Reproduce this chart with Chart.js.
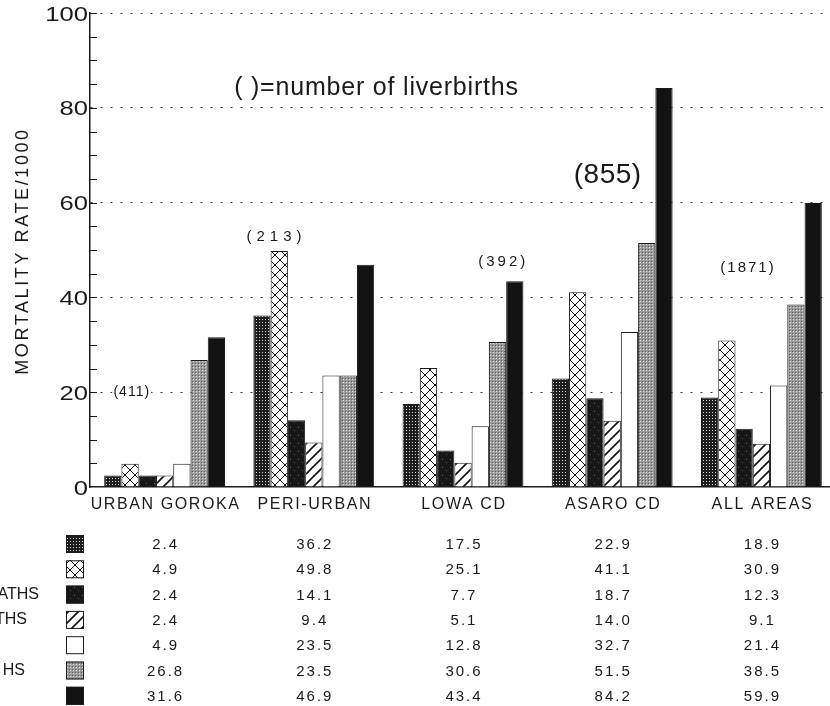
<!DOCTYPE html>
<html>
<head>
<meta charset="utf-8">
<script src="https://cdn.jsdelivr.net/npm/chart.js@4.4.1/dist/chart.umd.min.js"></script>
<style>
  html, body { margin: 0; padding: 0; background: #fff; overflow: hidden; }
  #wrap { width: 846px; height: 706px; }
</style>
</head>
<body>
<div id="wrap"><canvas id="mortality" width="846" height="706"></canvas></div>
<script>
const categories = ["URBAN GOROKA", "PERI-URBAN", "LOWA CD", "ASARO CD", "ALL AREAS"];
const yTicks = [0, 20, 40, 60, 80, 100];

// one array per row of the table (cause of death), values per area
const row1 = [2.4, 36.2, 17.5, 22.9, 18.9];
const row2 = [4.9, 49.8, 25.1, 41.1, 30.9];
const row3 = [2.4, 14.1, 7.7, 18.7, 12.3];
const row4 = [2.4, 9.4, 5.1, 14.0, 9.1];
const row5 = [4.9, 23.5, 12.8, 32.7, 21.4];
const row6 = [26.8, 23.5, 30.6, 51.5, 38.5];
const row7 = [31.6, 46.9, 43.4, 84.2, 59.9];

// the row names are cut off at the left edge of the picture, only these ends show
const rowTails = ["", "", "ATHS", "THS", "", "HS", ""];
const liveBirths = ["(411)", "(213)", "(392)", "(855)", "(1871)"];

const canvas = document.getElementById("mortality");
const ctx = canvas.getContext("2d");

function pattern(w, h, draw) {
  const c = document.createElement("canvas");
  c.width = w;
  c.height = h;
  draw(c.getContext("2d"), w, h);
  return ctx.createPattern(c, "repeat");
}

const fills = [
  // dark mesh
  pattern(3, 3, (g) => {
    g.fillStyle = "#1e1e1e"; g.fillRect(0, 0, 3, 3);
    g.fillStyle = "#d8d8d8"; g.fillRect(1, 1, 1, 1);
  }),
  // cross hatch
  pattern(10, 10, (g) => {
    g.fillStyle = "#fff"; g.fillRect(0, 0, 10, 10);
    g.strokeStyle = "#111"; g.lineWidth = 1;
    g.beginPath();
    g.moveTo(0, 0); g.lineTo(10, 10);
    g.moveTo(10, 0); g.lineTo(0, 10);
    g.stroke();
  }),
  // speckled black
  pattern(8, 8, (g) => {
    g.fillStyle = "#171717"; g.fillRect(0, 0, 8, 8);
    g.fillStyle = "#6a6a6a"; g.fillRect(2, 3, 1, 1);
    g.fillStyle = "#4a4a4a"; g.fillRect(6, 6, 1, 1);
  }),
  // diagonal hatch
  pattern(10, 10, (g) => {
    g.fillStyle = "#fff"; g.fillRect(0, 0, 10, 10);
    g.strokeStyle = "#111"; g.lineWidth = 1.6;
    g.beginPath();
    g.moveTo(0, 10); g.lineTo(10, 0);
    g.moveTo(-1, 1); g.lineTo(1, -1);
    g.moveTo(9, 11); g.lineTo(11, 9);
    g.stroke();
  }),
  "#ffffff",
  // grey mesh
  pattern(3, 3, (g) => {
    g.fillStyle = "#9a9a9a"; g.fillRect(0, 0, 3, 3);
    g.fillStyle = "#5c5c5c"; g.fillRect(0, 0, 1, 1);
    g.fillStyle = "#dedede"; g.fillRect(1, 1, 1, 1);
  }),
  "#121212",
];

const rows = [row1, row2, row3, row4, row5, row6, row7];

// where the live-birth notes sit: category index + offset, y value
const notes = [
  { text: "( )=number of liverbirths", cat: 1, dx: 0.42, v: 84.2, size: 25, gap: 0.8 },
  { text: liveBirths[0], cat: 0, dx: -0.22, v: 20, size: 14, gap: 1, clear: true },
  { text: liveBirths[1], cat: 1, dx: -0.25, v: 52.7, size: 15, gap: 5 },
  { text: liveBirths[2], cat: 2, dx: 0.27, v: 47.5, size: 15, gap: 3 },
  { text: liveBirths[3], cat: 3, dx: -0.03, v: 65.8, size: 28, gap: 0.5 },
  { text: liveBirths[4], cat: 4, dx: -0.09, v: 46.2, size: 15, gap: 2 },
];

const FONT = "'Liberation Sans', Arial, sans-serif";
const INK = "#1a1a1a";

const textLayer = {
  id: "textLayer",
  afterDraw(chart) {
    const { ctx, chartArea, scales: { x, y } } = chart;
    ctx.save();

    // short inward ticks on the y axis
    ctx.strokeStyle = INK;
    ctx.lineWidth = 1;
    for (let v = 5; v <= 100; v += 5) {
      const py = Math.round(y.getPixelForValue(v)) + 0.5;
      ctx.beginPath();
      ctx.moveTo(chartArea.left, py);
      ctx.lineTo(chartArea.left + 7, py);
      ctx.stroke();
    }

    ctx.fillStyle = INK;

    // y tick labels
    ctx.font = "20px " + FONT;
    ctx.textAlign = "right";
    ctx.textBaseline = "middle";
    yTicks.forEach((v) => {
      ctx.save();
      ctx.translate(chartArea.left - 2, y.getPixelForValue(v) + 2);
      ctx.scale(1.28, 1);
      ctx.fillText(String(v), 0, 0);
      ctx.restore();
    });

    // y title
    ctx.save();
    ctx.translate(23, 251);
    ctx.rotate(-Math.PI / 2);
    ctx.font = "18px " + FONT;
    ctx.letterSpacing = "2.6px";
    ctx.textAlign = "center";
    ctx.fillText("MORTALITY RATE/1000", 0, 0);
    ctx.restore();

    // category labels
    ctx.font = "16px " + FONT;
    ctx.letterSpacing = "1.6px";
    ctx.textAlign = "center";
    categories.forEach((c, i) => {
      ctx.fillText(c, x.getPixelForValue(i) + 1, 505);
    });

    // notes
    notes.forEach((n) => {
      ctx.font = n.size + "px " + FONT;
      ctx.letterSpacing = n.gap + "px";
      const px = x.getPixelForValue(n.cat) + n.dx * (x.getPixelForValue(1) - x.getPixelForValue(0));
      const py = y.getPixelForValue(n.v);
      if (n.clear) {
        const w = ctx.measureText(n.text).width;
        ctx.fillStyle = "#fff";
        ctx.fillRect(px - w / 2 - 1, py - n.size / 2, w + 2, n.size);
      }
      ctx.fillStyle = INK;
      ctx.fillText(n.text, px, py);
    });

    // data table under the chart
    rows.forEach((vals, r) => {
      const py = 544 + r * 25.3;
      ctx.fillStyle = fills[r];
      ctx.fillRect(66, py - 9, 18, 18);
      ctx.strokeStyle = INK;
      ctx.lineWidth = 1;
      ctx.strokeRect(66.5, py - 8.5, 17, 17);

      ctx.fillStyle = INK;
      ctx.font = "15px " + FONT;
      ctx.letterSpacing = "2px";
      ctx.textAlign = "center";
      vals.forEach((v, i) => {
        ctx.fillText(v.toFixed(1), x.getPixelForValue(i) + 1, py + 1);
      });

      if (rowTails[r]) {
        ctx.font = "16px " + FONT;
        ctx.letterSpacing = "0px";
        ctx.textAlign = "right";
        ctx.fillText(rowTails[r], [0, 0, 39, 27, 0, 25, 0][r], py);
      }
    });

    ctx.restore();
  },
};

new Chart(ctx, {
  type: "bar",
  data: {
    labels: categories,
    datasets: rows.map((vals, r) => ({
      label: "row " + (r + 1),
      data: vals,
      backgroundColor: fills[r],
      borderColor: INK,
      borderWidth: 1,
      categoryPercentage: 0.81,
      barPercentage: 1.0,
    })),
  },
  options: {
    responsive: false,
    animation: false,
    devicePixelRatio: 1,
    layout: {
      padding: { left: 90, right: 10, top: 13, bottom: 219 },
    },
    plugins: {
      legend: { display: false },
      tooltip: { enabled: false },
    },
    scales: {
      x: {
        ticks: { display: false },
        grid: { display: false, drawTicks: false },
        border: { display: true, color: INK, width: 1.5 },
      },
      y: {
        min: 0,
        max: 100,
        afterBuildTicks: (scale) => {
          scale.ticks = yTicks.map((v) => ({ value: v }));
        },
        ticks: { display: false },
        grid: {
          drawTicks: false,
          color: (c) => (c.tick && c.tick.value === 0 ? "rgba(0,0,0,0)" : "#333"),
          lineWidth: 1,
        },
        border: { display: true, color: INK, width: 1.5, dash: [2, 8] },
      },
    },
  },
  plugins: [textLayer],
});
</script>
</body>
</html>
